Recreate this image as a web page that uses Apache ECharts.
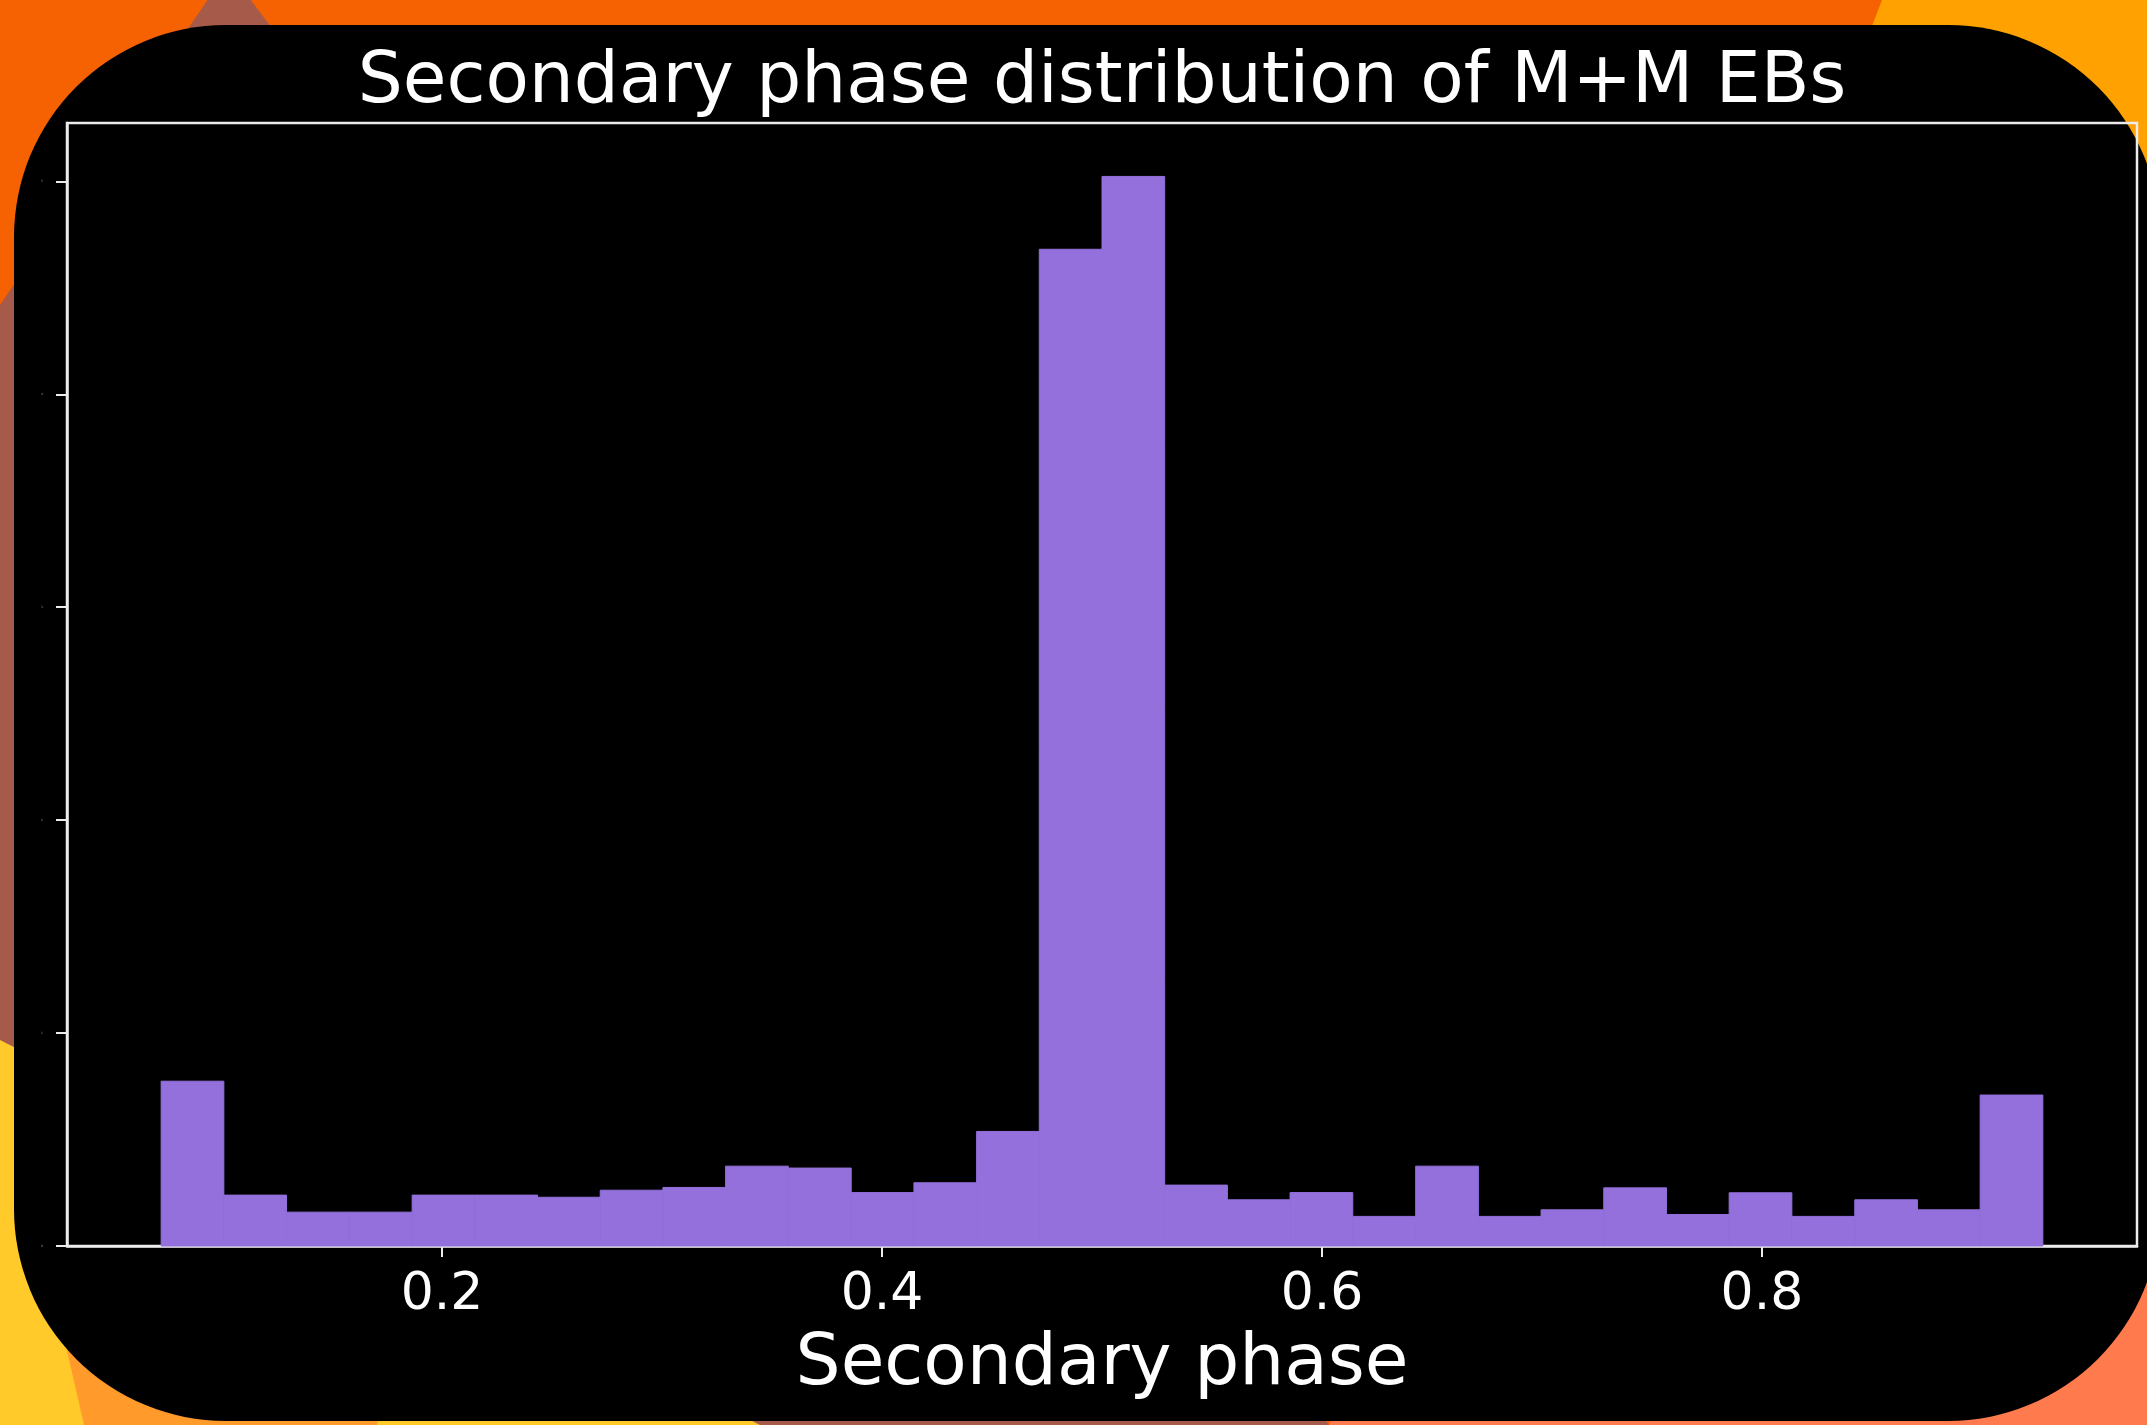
<!DOCTYPE html>
<html>
<head>
<meta charset="utf-8">
<script src="https://cdn.jsdelivr.net/npm/echarts@6/dist/echarts.min.js"></script>
<style>
html,body{margin:0;padding:0;background:#F66201;}
#chart{width:2147px;height:1425px;}
</style>
</head>
<body>
<div id="chart"></div>
<script>
// Histogram bin edges (secondary phase)
var binEdges = [0.0723, 0.1008, 0.1293, 0.1578, 0.1864, 0.2149, 0.2434, 0.2719, 0.3004, 0.3289,
                0.3574, 0.3860, 0.4145, 0.4430, 0.4715, 0.5000, 0.5285, 0.5570, 0.5855, 0.6140,
                0.6426, 0.6711, 0.6996, 0.7281, 0.7566, 0.7851, 0.8136, 0.8422, 0.8707, 0.8992, 0.9277];
// Bin heights (density)
var binHeights = [0.774, 0.239, 0.159, 0.159, 0.239, 0.239, 0.229, 0.262, 0.275, 0.375,
                  0.366, 0.251, 0.297, 0.538, 4.681, 5.023, 0.286, 0.217, 0.251, 0.139,
                  0.375, 0.139, 0.170, 0.273, 0.148, 0.250, 0.139, 0.217, 0.170, 0.709];
var xTicks = [0.2, 0.4, 0.6, 0.8];
var yTicks = [0, 1, 2, 3, 4, 5];
var titleText = 'Secondary phase distribution of M+M EBs';
var xName = 'Secondary phase';

var histData = [];
for (var i = 0; i < binHeights.length; i++) {
  histData.push([binEdges[i], binEdges[i + 1], binHeights[i]]);
}

var chart = echarts.init(document.getElementById('chart'), null, {renderer: 'canvas'});
var FONT = 'DejaVu Sans';
var option = {
  backgroundColor: '#F66201',
  animation: false,
  graphic: [
    {type: 'polygon', z: -20, shape: {points: [[1882, 0], [2147, 0], [2147, 600], [1651, 600]]}, style: {fill: '#FFA100'}},
    {type: 'polygon', z: -20, shape: {points: [[228, -30], [0, 305], [0, 1425], [1329, 1425]]}, style: {fill: '#A55A4A'}},
    {type: 'polygon', z: -19, shape: {points: [[1329, 1425], [2160, 1425], [2160, 1000], [1500, 1000]]}, style: {fill: '#FF7A4C'}},
    {type: 'polygon', z: -19, shape: {points: [[0, 1040], [760, 1425], [0, 1425]]}, style: {fill: '#FFCA2A'}},
    {type: 'polygon', z: -18, shape: {points: [[60, 1320], [84, 1425], [377, 1425], [400, 1320]]}, style: {fill: '#FF9A2B'}},
    {type: 'rect', z: -10, shape: {x: 14, y: 25, width: 2146, height: 1396, r: 212}, style: {fill: '#000000'}}
  ],
  title: {
    text: titleText,
    left: 1102,
    top: 48,
    padding: 0,
    textAlign: 'center',
    textStyle: {color: '#ffffff', fontFamily: FONT, fontSize: 71, fontWeight: 'normal'}
  },
  grid: {
    left: 67, right: 10, top: 123, bottom: 179,
    containLabel: false,
    outerBoundsMode: 'none',
    show: true,
    backgroundColor: 'transparent',
    borderColor: '#ececec',
    borderWidth: 2.5
  },
  xAxis: {
    type: 'value',
    min: 0.0295,
    max: 0.9705,
    name: xName,
    nameLocation: 'middle',
    nameGap: 84,
    nameTextStyle: {color: '#ffffff', fontFamily: FONT, fontSize: 71},
    splitLine: {show: false},
    axisLine: {show: true, lineStyle: {color: '#ececec', width: 2.5}},
    axisTick: {show: true, customValues: xTicks, length: 11, lineStyle: {color: '#ececec', width: 2}},
    axisLabel: {
      customValues: xTicks,
      color: '#ffffff', fontFamily: FONT, fontSize: 52, margin: 23,
      formatter: function (v) { return v.toFixed(1); }
    }
  },
  yAxis: {
    type: 'value',
    min: 0,
    max: 5.274,
    splitLine: {show: false},
    axisLine: {show: true, lineStyle: {color: '#ececec', width: 2.5}},
    axisTick: {show: true, customValues: yTicks, length: 11, lineStyle: {color: '#ececec', width: 2}},
    axisLabel: {customValues: yTicks, color: '#999999', fontFamily: FONT, fontSize: 3, margin: 24}
  },
  series: [{
    type: 'custom',
    data: histData,
    encode: {x: [0, 1], y: 2},
    renderItem: function (params, api) {
      var x0 = api.value(0), x1 = api.value(1), h = api.value(2);
      var pTop = api.coord([x0, h]);
      var pBot = api.coord([x1, 0]);
      return {
        type: 'rect',
        shape: {x: pTop[0], y: pTop[1], width: pBot[0] - pTop[0], height: pBot[1] - pTop[1]},
        style: {fill: '#9370DB', stroke: '#9370DB', lineWidth: 1}
      };
    }
  }]
};
chart.setOption(option);
</script>
</body>
</html>
